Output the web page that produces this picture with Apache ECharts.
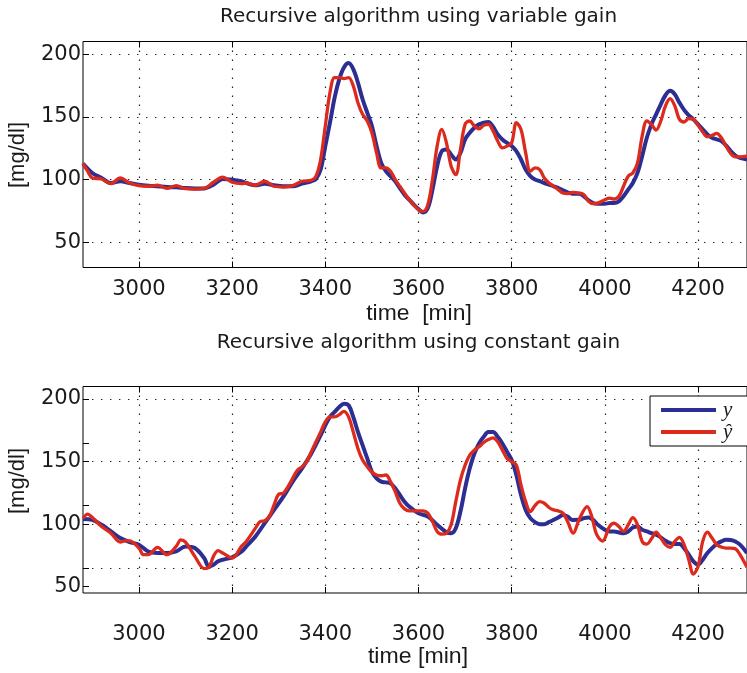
<!DOCTYPE html>
<html>
<head>
<meta charset="utf-8">
<script src="https://cdn.jsdelivr.net/npm/echarts@6/dist/echarts.min.js"></script>
<style>
  html, body { margin: 0; padding: 0; background: #fff; }
  #chart { width: 747px; height: 673px; }
</style>
</head>
<body>
<div id="chart"></div>
<script>
// ---- Panel 1: recursive algorithm, variable gain ----
const varTimeY = [2880,2900,2920,2940,2960,2980,3000,3020,3040,3060,3080,3100,3120,3140,3160,3180,3200,3220,3230,3250,3270,3290,3310,3330,3350,3370,3380,3390,3400,3410,3420,3430,3440,3450,3460,3470,3480,3490,3500,3510,3520,3530,3540,3550,3560,3570,3580,3590,3600,3610,3620,3630,3640,3650,3660,3670,3680,3690,3700,3710,3720,3730,3740,3750,3760,3770,3780,3790,3800,3810,3820,3830,3840,3850,3860,3870,3880,3890,3900,3910,3920,3930,3945,3955,3965,3975,3985,4000,4010,4020,4030,4040,4050,4060,4070,4080,4090,4100,4110,4120,4130,4140,4150,4160,4170,4180,4190,4200,4210,4220,4230,4240,4250,4260,4270,4280,4290,4305];
const varY = [112.8,105.3,101.3,97.3,98.7,97.3,96,95.2,94.7,94.1,93.9,93.3,93,93,96,100.5,100,98.7,97.3,95.5,96.8,95.5,94.7,94.7,96.8,98.7,100.5,108,126.7,145.3,165.3,180,189.3,192.8,188,177.3,164,153.3,142.7,126.7,113.3,106.7,102.7,98.7,93.3,88,84,80,76.5,73.9,77.3,92,110.7,122.7,124,120,116,121.3,132,137.3,141.3,144,145.3,145.9,142.1,136,132,129.3,126.7,122.7,116,108,102.7,100,98.7,97.3,96,94.7,93.3,91.5,89.9,88.8,88.8,86.7,83.5,81.3,80.8,80.8,81.3,81.3,82.7,86.7,92,97.3,105.3,118.7,133.3,144,152,160,167.2,170.7,168,161.3,155.5,151.2,148,144,140,136,133.3,132,130.7,127.2,122.7,119.2,117.3,116];

const varTimeYhat = [2880,2890,2900,2920,2940,2960,2980,3000,3020,3040,3060,3080,3100,3120,3140,3160,3180,3200,3220,3230,3250,3270,3290,3310,3330,3350,3370,3380,3390,3400,3410,3420,3430,3440,3450,3460,3470,3480,3490,3500,3510,3520,3530,3540,3550,3560,3570,3580,3600,3610,3620,3630,3640,3650,3660,3670,3680,3690,3700,3710,3720,3730,3740,3750,3760,3770,3780,3790,3800,3810,3820,3830,3840,3850,3860,3870,3880,3890,3900,3910,3920,3930,3945,3955,3965,3975,3985,4000,4010,4020,4030,4040,4050,4060,4070,4080,4090,4100,4110,4120,4130,4140,4150,4160,4170,4180,4190,4200,4210,4220,4230,4240,4250,4260,4270,4280,4290,4305];
const varYhat = [112.8,106.7,101.3,100.5,96.8,101.3,97.3,95.2,94.7,95.5,93,95.2,92.8,92.5,93,97.9,101.9,97.9,96.8,97.3,95.5,98.7,94.7,94.1,95.2,98.7,99.5,102.7,116,142.7,169.3,181.3,181.3,180.5,181.3,174.7,161.3,152,146.7,137.3,121.3,109.3,109.3,106.7,100,94.7,89.3,84,76,74.7,80,100,126.7,140,129.3,110.7,104,124,144,146.7,142.7,140.5,143.2,144,138.7,130.7,125.3,126.7,129.3,145.3,140,121.3,106.7,109.3,108,101.3,97.3,94.7,92,89.3,88.8,89.9,89.3,88,82.7,80.8,81.3,84,85.3,84.5,86.7,94.7,102.7,105.3,113.3,134.7,146.7,144,139.5,146.7,158.7,164.5,158.7,148,145.9,148.5,148,143.2,137.9,134.1,135.2,136.8,133.3,126.7,120.8,118.1,118.1,118.7];

// ---- Panel 2: recursive algorithm, constant gain ----
const conTimeY = [2880,2900,2920,2940,2960,2980,3000,3020,3040,3060,3080,3100,3120,3140,3150,3160,3170,3180,3200,3220,3230,3250,3270,3290,3310,3330,3350,3370,3390,3400,3410,3420,3430,3440,3450,3460,3470,3480,3490,3500,3510,3520,3530,3540,3550,3560,3570,3580,3600,3620,3640,3660,3670,3680,3690,3700,3710,3720,3730,3740,3750,3760,3770,3780,3790,3800,3810,3820,3830,3840,3850,3860,3870,3880,3890,3900,3910,3920,3930,3945,3955,3965,3975,3985,4000,4010,4020,4030,4040,4050,4060,4070,4080,4090,4100,4110,4120,4130,4140,4150,4160,4170,4180,4190,4200,4210,4220,4230,4240,4250,4260,4270,4280,4290,4305];
const conY = [104.2,103.4,99.5,94.2,88.9,85.7,83.6,78.2,76.9,76.9,78.2,82.2,80.9,72.9,66.3,67.6,70.3,71.6,73.5,78,82,90.2,100.8,111.4,122,134,144.6,156.5,171.1,179,185.7,189.7,193.6,196.3,195,185.7,173.7,163.1,152.5,141.9,136.6,134,133.4,132.6,128.6,123.3,118,114.1,108.8,106.1,99.5,93.6,92.8,96.8,110.1,128.6,144.6,156.5,164.5,169.8,173.7,173.7,169.8,164.5,157.8,151.2,139.3,123.3,111.4,104.8,101.6,100,100,101.6,103.4,105.3,107.4,106.1,103.4,103.5,104.8,105.3,103.4,99.5,95.5,94.2,94.2,93.4,92.8,94.2,97.3,98.1,95.5,94.2,92.8,91.5,89.4,86.7,84.9,84.1,84.1,80.9,75.6,70.3,67.6,71.6,76.9,80.9,84.1,86.2,87.5,87.3,86.2,83.6,77];

const conTimeYhat = [2880,2890,2900,2920,2940,2960,2970,2980,3000,3010,3020,3040,3060,3080,3090,3100,3120,3140,3150,3160,3170,3180,3200,3220,3230,3250,3260,3270,3280,3290,3300,3310,3320,3330,3340,3350,3360,3370,3380,3390,3400,3410,3420,3430,3440,3450,3460,3470,3480,3490,3500,3510,3520,3530,3540,3550,3560,3570,3580,3600,3610,3620,3630,3640,3650,3660,3670,3680,3690,3700,3710,3720,3730,3740,3750,3760,3770,3780,3790,3800,3810,3820,3830,3840,3850,3860,3870,3880,3890,3900,3910,3920,3932,3945,3962,3972,3982,3995,4010,4020,4030,4040,4050,4060,4070,4080,4090,4100,4110,4120,4130,4140,4150,4160,4170,4180,4190,4200,4210,4220,4230,4240,4250,4260,4270,4280,4290,4305];
const conYhat = [104.8,108,105.3,98.1,92.8,85.7,86.7,86.7,80.9,75.6,75.6,81.4,75.6,82.2,87.5,85.7,74.3,64.5,65.5,74.3,78.8,76.9,72.9,82.2,86,96.8,102.1,102.7,106.1,115.4,123.9,124.7,130,136.6,143.1,145.8,149.9,157.9,165.8,173.7,181.7,185.7,185.7,187.5,190.2,185.7,173.7,160.5,151.2,145.9,141.4,139.3,138.7,139.3,134,126,116.7,112.2,110.6,110.6,110.6,108.8,102.1,94.2,92,92.8,99.5,118,135.3,147.2,155.2,159.2,161.8,165.3,167.6,169,165.8,159.2,152.5,149.9,147.2,131.3,118,110.1,114.9,118,116.7,113.3,111.4,110.6,108.8,102.1,92.8,104,114,106,92,86.5,98.1,100.8,98.1,94.2,99.5,105.3,99.5,86.2,84.1,88.3,93.6,88.9,83.6,81.4,86.2,89.4,83.6,71.6,60.2,66.3,86.2,93.6,88.9,83.6,81.7,80.9,80.9,80.4,75.6,65.5];

// ---- axis ticks and labels ----
const timeTicks = [3000, 3200, 3400, 3600, 3800, 4000, 4200];
const glucoseTicks = [50, 100, 150, 200];
const constGridTicks = [65, 100, 150, 200];
const constExtraTicks = [50, 115, 165];

const seriesNames = ['y', '\u0177'];
const titles = ['Recursive algorithm using variable gain', 'Recursive algorithm using constant gain'];
const xLabels = ['time  [min]', 'time [min]'];
const yLabel = '[mg/dl]';

const BLUE = '#2c2e91';
const RED = '#dc2b1c';
const FONT = '"Liberation Sans", Helvetica, Arial, sans-serif';
const TICK_FONT = '"DejaVu Sans", Verdana, sans-serif';
const INK = '#1a1a1a';

const pairs = (t, v) => v.map((val, i) => [t[i], val]);

const dotted = { color: '#222', width: 1.2, type: [1.4, 7.6] };
const tickStyle = { show: true, inside: true, length: 6, lineStyle: { color: '#000', width: 1 } };
const tickLabel = { fontFamily: TICK_FONT, fontSize: 21, color: INK, formatter: v => String(v) };

function xAxisPair(gridIndex, labelMargin) {
  return [
    {
      gridIndex, type: 'value', min: 2880, max: 4305, position: 'bottom',
      axisLine: { show: false },
      axisTick: Object.assign({ customValues: timeTicks }, tickStyle),
      axisLabel: Object.assign({ customValues: timeTicks, margin: labelMargin }, tickLabel),
      splitLine: { show: true, lineStyle: dotted }
    },
    {
      gridIndex, type: 'value', min: 2880, max: 4305, position: 'top',
      axisLine: { show: false },
      axisTick: Object.assign({ customValues: timeTicks }, tickStyle),
      axisLabel: { show: false },
      splitLine: { show: false }
    }
  ];
}

function centredText(text, x, y, font, scaleX, rotation) {
  return {
    type: 'text', x, y, scaleX: scaleX || 1, rotation: rotation || 0,
    style: { text, font, fill: INK, textAlign: 'center', textVerticalAlign: 'middle' }
  };
}

const option = {
  animation: false,
  backgroundColor: '#fff',
  grid: [
    { left: 83, top: 41.5, width: 666, height: 226, show: true, borderColor: '#000', borderWidth: 1, backgroundColor: '#fff' },
    { left: 83, top: 386.5, width: 666, height: 206.5, show: true, borderColor: '#000', borderWidth: 1, backgroundColor: '#fff' }
  ],
  xAxis: [].concat(xAxisPair(0, 12), xAxisPair(1, 31)),
  yAxis: [
    {
      gridIndex: 0, type: 'value', min: 30, max: 210, position: 'left',
      axisLine: { show: false },
      axisTick: Object.assign({ customValues: glucoseTicks }, tickStyle),
      axisLabel: Object.assign({ customValues: glucoseTicks, margin: 2 }, tickLabel),
      splitLine: { show: true, lineStyle: dotted }
    },
    {
      gridIndex: 1, type: 'value', min: 45, max: 210, position: 'left',
      axisLine: { show: false },
      axisTick: Object.assign({ customValues: constGridTicks }, tickStyle),
      axisLabel: Object.assign({ customValues: glucoseTicks, margin: 2 }, tickLabel),
      splitLine: { show: true, lineStyle: dotted }
    },
    {
      gridIndex: 1, type: 'value', min: 45, max: 210, position: 'left', offset: 0,
      axisLine: { show: false },
      axisTick: Object.assign({ customValues: constExtraTicks }, tickStyle),
      axisLabel: { show: false },
      splitLine: { show: false }
    }
  ],
  legend: {
    data: seriesNames,
    orient: 'vertical',
    left: 650, top: 396,
    backgroundColor: '#fff',
    borderColor: '#000', borderWidth: 1, borderRadius: 0,
    padding: [3, 40, 3, 11],
    icon: 'rect', itemWidth: 55, itemHeight: 4, itemGap: 0,
    textStyle: { fontFamily: '"Liberation Serif", "DejaVu Serif", serif', fontStyle: 'italic', fontSize: 21, lineHeight: 22, color: INK, padding: [0, 0, 0, 2] }
  },
  series: [
    { name: seriesNames[0], type: 'line', xAxisIndex: 0, yAxisIndex: 0, data: pairs(varTimeY, varY), smooth: 0.35, showSymbol: false, lineStyle: { color: BLUE, width: 4 }, itemStyle: { color: BLUE }, z: 2 },
    { name: seriesNames[1], type: 'line', xAxisIndex: 0, yAxisIndex: 0, data: pairs(varTimeYhat, varYhat), smooth: 0.35, showSymbol: false, lineStyle: { color: RED, width: 3.3 }, itemStyle: { color: RED }, z: 3 },
    { name: seriesNames[0], type: 'line', xAxisIndex: 2, yAxisIndex: 1, data: pairs(conTimeY, conY), smooth: 0.35, showSymbol: false, lineStyle: { color: BLUE, width: 4 }, itemStyle: { color: BLUE }, z: 2 },
    { name: seriesNames[1], type: 'line', xAxisIndex: 2, yAxisIndex: 1, data: pairs(conTimeYhat, conYhat), smooth: 0.35, showSymbol: false, lineStyle: { color: RED, width: 3.3 }, itemStyle: { color: RED }, z: 3 }
  ],
  graphic: [
    centredText(titles[0], 418.5, 17, '20px ' + TICK_FONT),
    centredText(titles[1], 418.5, 343, '20px ' + TICK_FONT),
    centredText(xLabels[0], 419, 314, '22px ' + FONT, 1.04),
    centredText(xLabels[1], 418, 657, '22px ' + FONT, 1.05),
    centredText(yLabel, 17.5, 155, '22px ' + FONT, 1, Math.PI / 2),
    centredText(yLabel, 17.5, 481, '22px ' + FONT, 1, Math.PI / 2)
  ]
};

const chart = echarts.init(document.getElementById('chart'), null, { renderer: 'canvas' });
chart.setOption(option);
</script>
</body>
</html>
